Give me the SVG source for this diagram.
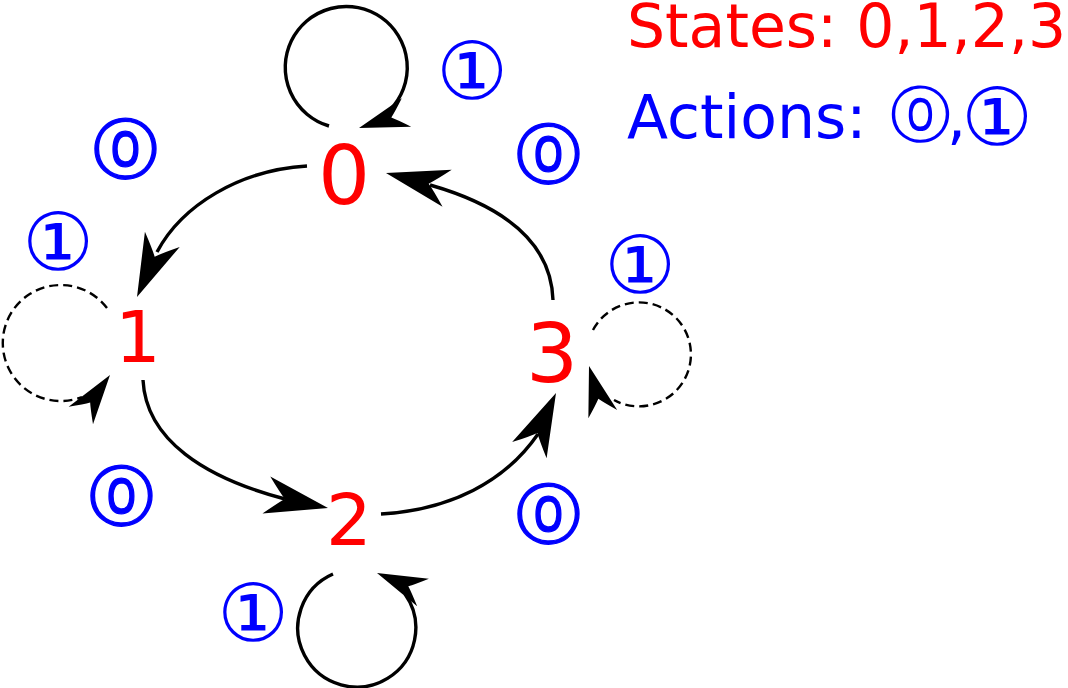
<svg xmlns="http://www.w3.org/2000/svg" width="1068" height="688" viewBox="0 0 1068 688">
<style>
.st{font-family:"DejaVu Sans","Liberation Sans",sans-serif;fill:#ff0000}
.ac{font-family:"DejaVu Sans","Liberation Sans",sans-serif;fill:#0000ff;text-anchor:middle}
.z{font-size:65px;stroke:#0000ff;stroke-width:1.3}
.o{font-size:80px}
.lg{font-family:"DejaVu Sans","Liberation Sans",sans-serif;font-size:60px}
.e{fill:none;stroke:#000;stroke-width:3.4}
.d{fill:none;stroke:#000;stroke-width:2.4;stroke-dasharray:9,5}
</style>
<defs>
<path id="big" d="M0,0 L-63,-19 Q-50,-5 -44,0 Q-50,5 -63,19 Z" fill="#000"/>
<path id="sm" d="M0,0 L-50,-15 Q-39,-4 -34,0 Q-39,4 -50,15 Z" fill="#000"/>
</defs>
<rect width="1068" height="688" fill="#fff"/>
<g id="connectors">
<path class="e" d="M307,166 C240,170 182,205 157,252"/>
<use href="#big" transform="translate(137,297) rotate(113.7)"/>
<path class="e" d="M143,380 C146,440 205,478 285,499"/>
<use href="#big" transform="translate(328,508) rotate(11.9)"/>
<path class="e" d="M381,514 C450,510 505,482 538,434"/>
<use href="#big" transform="translate(556,393) rotate(-65)"/>
<path class="e" d="M553,300 C551,240 500,205 430,185"/>
<use href="#big" transform="translate(386,173) rotate(194)"/>
<path class="e" d="M329,126 A61,61 0 1 1 390,110"/>
<use href="#sm" transform="translate(359,128) rotate(161.8)"/>
<path class="d" d="M107,308 A58,58 0 1 0 82,397"/>
<use href="#sm" transform="translate(110,375) rotate(-54.3)"/>
<path class="d" d="M593,330 A52,52 0 1 1 614,400"/>
<use href="#sm" transform="translate(589,366) rotate(-106)"/>
<path class="e" d="M333,574 A59,59 0 1 0 405,594"/>
<use href="#sm" transform="translate(377,573) rotate(203)"/>
</g>
<g id="node0"><text class="st" x="344" y="204" font-size="82" text-anchor="middle">0</text></g>
<g id="node1"><text class="st" x="138" y="362" font-size="72" text-anchor="middle">1</text></g>
<g id="node2"><text class="st" x="349" y="545" font-size="72" text-anchor="middle">2</text></g>
<g id="node3"><text class="st" x="552" y="382" font-size="82" text-anchor="middle">3</text></g>
<g id="labels">
<text class="ac o" x="472" y="99">①</text>
<text class="ac z" x="125" y="172">⓪</text>
<text class="ac o" x="58" y="270">①</text>
<text class="ac z" x="548" y="177">⓪</text>
<text class="ac o" x="640" y="293">①</text>
<text class="ac z" x="121" y="519">⓪</text>
<text class="ac z" x="548" y="537">⓪</text>
<text class="ac o" x="253" y="641">①</text>
</g>
<g id="legend">
<text class="lg" x="627" y="47" fill="#ff0000">States: 0,1,2,3</text>
<text class="lg" x="627" y="138" fill="#0000ff">Actions:</text>
<text class="ac" x="920" y="136" font-size="61">⓪</text>
<text class="lg" x="947" y="138" fill="#0000ff">,</text>
<text class="ac" x="997" y="145" font-size="80">①</text>
</g>
</svg>
